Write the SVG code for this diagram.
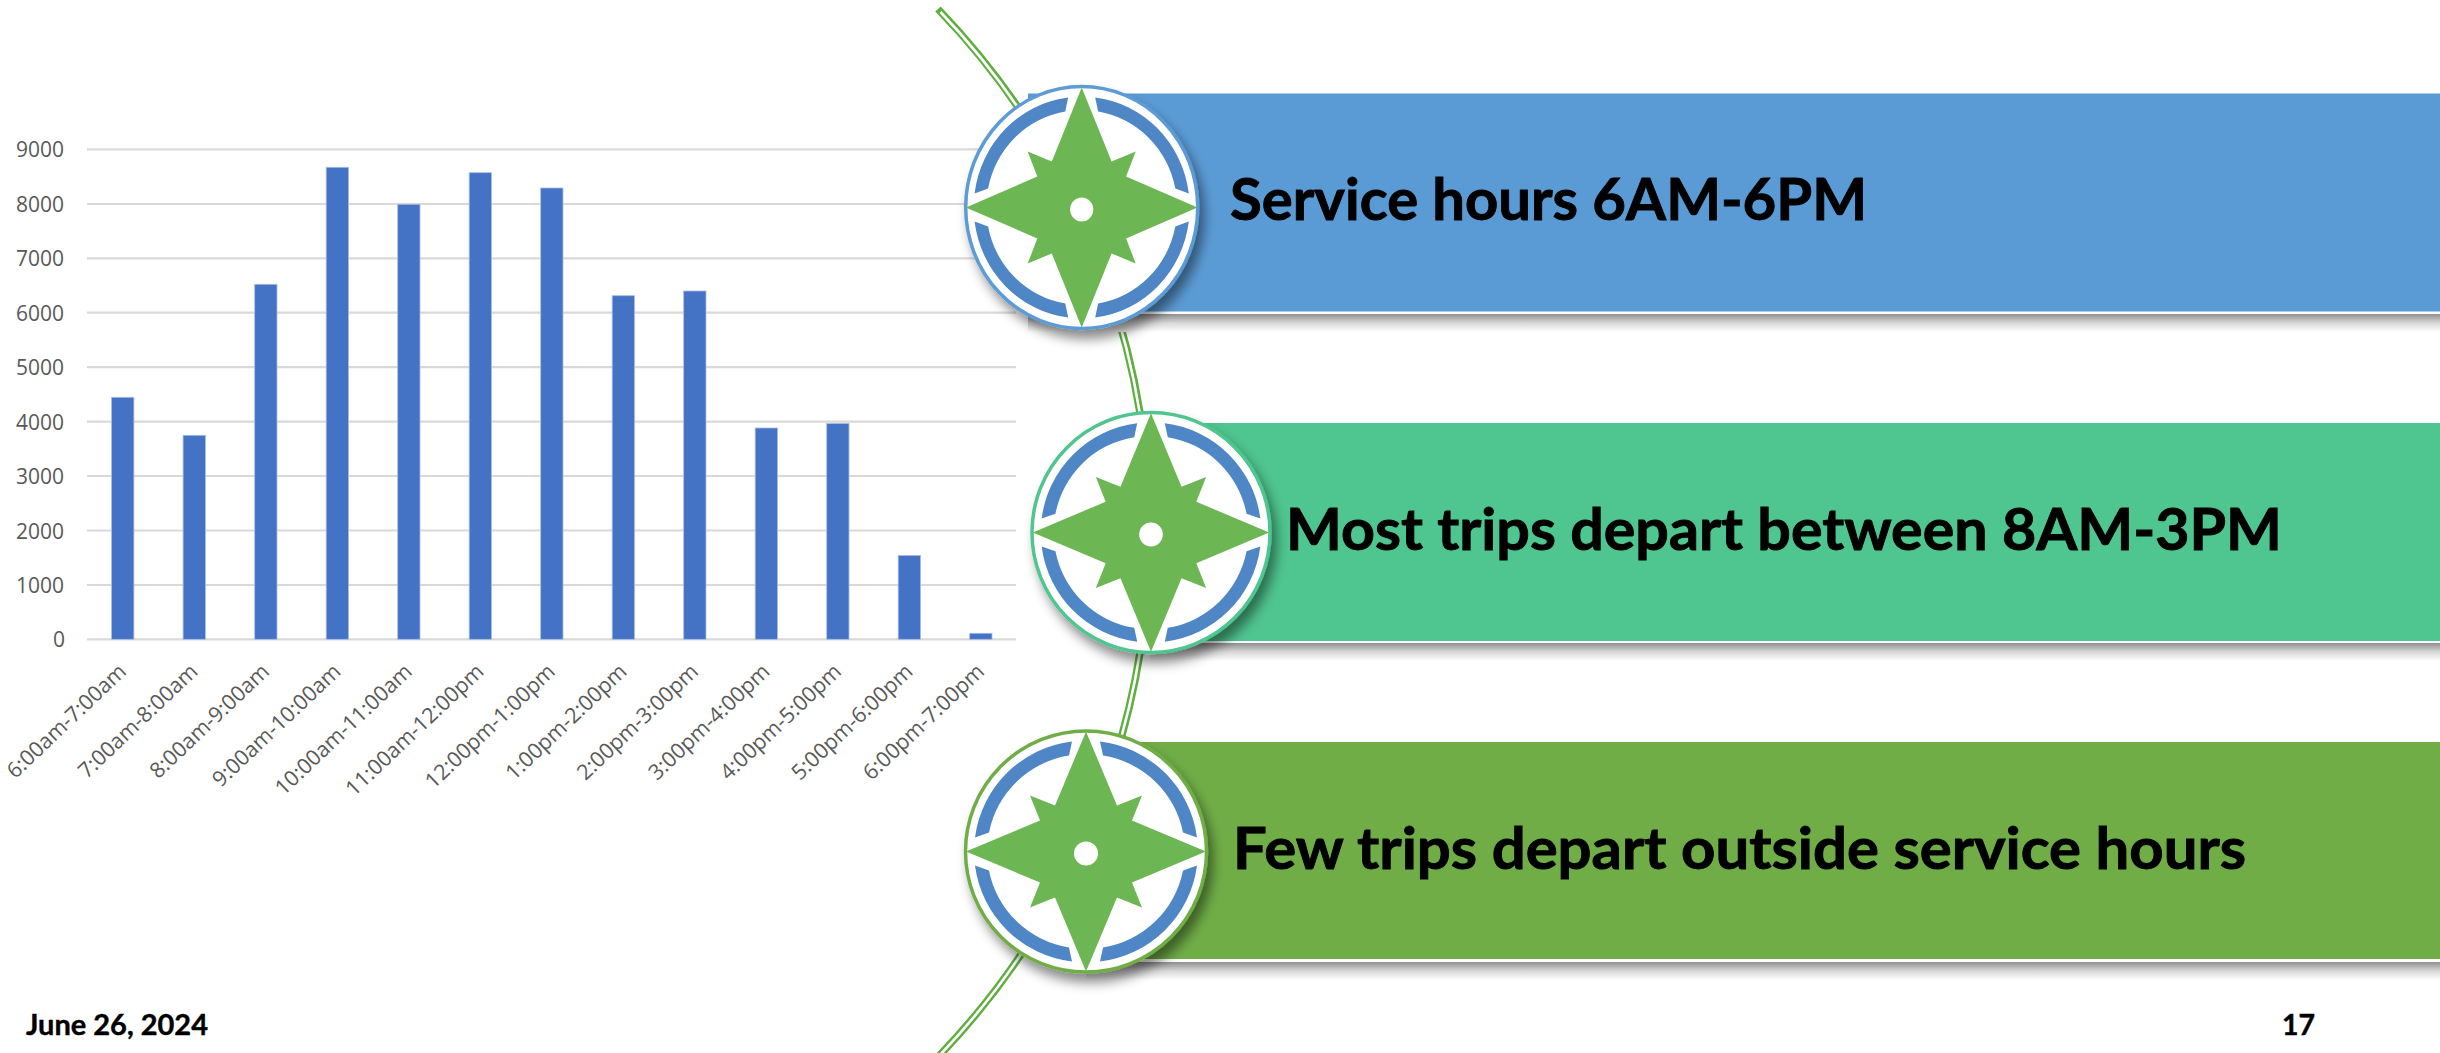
<svg xmlns="http://www.w3.org/2000/svg" xmlns:xlink="http://www.w3.org/1999/xlink" width="2440" height="1053" viewBox="0 0 2440 1053">
<style>
.grid{stroke:#d9d9d9;stroke-width:2.2;fill:none}
.bar{fill:#4472c4;stroke:#a9bde3;stroke-width:.8}
.ax{font-family:"Open Sans","Liberation Sans",sans-serif;font-size:21px;fill:#595959}
.xl{font-family:"Open Sans","Liberation Sans",sans-serif;font-size:21.4px;fill:#595959;text-anchor:end}
.big{font-family:Lato,"Liberation Sans",sans-serif;font-size:58px;font-weight:700;fill:#000;stroke:#000;stroke-width:.9}
.foot{font-family:Lato,"Liberation Sans",sans-serif;font-size:28.5px;font-weight:700;fill:#000;stroke:#000;stroke-width:.4}
.ring{fill:#4f86c6}
.star{fill:#6cb753}
</style>
<defs>
<linearGradient id="sh" x1="0" y1="0" x2="0" y2="1"><stop offset="0" stop-color="#8f8f8f"/><stop offset=".5" stop-color="#d8d8d8"/><stop offset="1" stop-color="#fff"/></linearGradient>
<filter id="ds" x="-20%" y="-20%" width="145%" height="145%"><feDropShadow dx="5" dy="9" stdDeviation="6" flood-color="#000" flood-opacity=".45"/></filter>
<g id="compassArt">
<g id="r4">
<path id="seg" class="ring" d="M14 -110A111 111 0 0 1 111 -14L97 -19A97 97 0 0 0 17 -96Z"/>
<use xlink:href="#seg" href="#seg" transform="scale(-1,1)"/>
<use xlink:href="#seg" href="#seg" transform="scale(1,-1)"/>
<use xlink:href="#seg" href="#seg" transform="scale(-1,-1)"/>
</g>
<path class="star" fill-rule="evenodd" d="M0 -120L31 -46L56 -56L46 -31L120 0L46 31L56 56L31 46L0 120L-31 46L-56 56L-46 31L-120 0L-46 -31L-56 -56L-31 -46ZM12 2A12 12 0 1 0 -12 2A12 12 0 1 0 12 2Z"/>
</g>
</defs>
<rect width="2440" height="1053" fill="#fff"/>
<g id="chart">
<g id="gridlines">
<path class="grid" d="M87 149.3H1016M87 204H1016M87 258.3H1016M87 312.7H1016M87 367.2H1016M87 421.7H1016M87 476H1016M87 530.5H1016M87 585H1016M87 639.4H1016"/>
</g>
<g id="bars">
<rect class="bar" x="111.6" y="397.3" width="22.3" height="242"/>
<rect class="bar" x="183.1" y="435.3" width="22.3" height="204"/>
<rect class="bar" x="254.7" y="284.3" width="22.3" height="355"/>
<rect class="bar" x="326.2" y="167.3" width="22.3" height="472"/>
<rect class="bar" x="397.7" y="204.3" width="22.3" height="435"/>
<rect class="bar" x="469.2" y="172.7" width="22.3" height="466.6"/>
<rect class="bar" x="540.7" y="188" width="22.3" height="451.3"/>
<rect class="bar" x="612.2" y="295.7" width="22.3" height="343.6"/>
<rect class="bar" x="683.7" y="291" width="22.3" height="348.3"/>
<rect class="bar" x="755.2" y="428" width="22.3" height="211.3"/>
<rect class="bar" x="826.7" y="423.5" width="22.3" height="215.8"/>
<rect class="bar" x="898.2" y="555.5" width="22.3" height="83.8"/>
<rect class="bar" x="969.7" y="633.3" width="22.3" height="6"/>
</g>
<g id="yaxis">
<text class="ax" x="16" y="157">9000</text>
<text class="ax" x="16" y="211.5">8000</text>
<text class="ax" x="16" y="266">7000</text>
<text class="ax" x="16" y="320.5">6000</text>
<text class="ax" x="16" y="375">5000</text>
<text class="ax" x="16" y="429.5">4000</text>
<text class="ax" x="16" y="484">3000</text>
<text class="ax" x="16" y="538.5">2000</text>
<text class="ax" x="16" y="593">1000</text>
<text class="ax" x="53" y="647">0</text>
</g>
<g id="xaxis">
<text class="xl" transform="translate(127.500 673) rotate(-43.500)">6:00am-7:00am</text>
<text class="xl" transform="translate(199 673) rotate(-43.500)">7:00am-8:00am</text>
<text class="xl" transform="translate(270.500 673) rotate(-43.500)">8:00am-9:00am</text>
<text class="xl" transform="translate(342 673) rotate(-43.500)">9:00am-10:00am</text>
<text class="xl" transform="translate(413.500 673) rotate(-43.500)">10:00am-11:00am</text>
<text class="xl" transform="translate(485 673) rotate(-43.500)">11:00am-12:00pm</text>
<text class="xl" transform="translate(556.500 673) rotate(-43.500)">12:00pm-1:00pm</text>
<text class="xl" transform="translate(628 673) rotate(-43.500)">1:00pm-2:00pm</text>
<text class="xl" transform="translate(699.500 673) rotate(-43.500)">2:00pm-3:00pm</text>
<text class="xl" transform="translate(771 673) rotate(-43.500)">3:00pm-4:00pm</text>
<text class="xl" transform="translate(842.500 673) rotate(-43.500)">4:00pm-5:00pm</text>
<text class="xl" transform="translate(914 673) rotate(-43.500)">5:00pm-6:00pm</text>
<text class="xl" transform="translate(985.500 673) rotate(-43.500)">6:00pm-7:00pm</text>
</g>
</g>
<g id="connectors">
<path d="M938 9A755 755 0 0 1 938 1057" fill="none" stroke="#5fae3f" stroke-width="7.5"/>
<path d="M940.500 12A755 755 0 0 1 938 1057" fill="none" stroke="#fff" stroke-width="2.6"/>
</g>
<g id="banner1">
<rect x="1028" y="314" width="1412" height="18" fill="url(#sh)"/>
<rect x="1028" y="92" width="1412" height="222" fill="#fff"/>
<rect x="1028" y="93.500" width="1412" height="218" fill="#5b9bd5"/>
<text class="big" x="1230" y="219.500" textLength="637" lengthAdjust="spacingAndGlyphs">Service hours 6AM-6PM</text>
</g>
<g id="banner2">
<rect x="1150" y="643" width="1290" height="18" fill="url(#sh)"/>
<rect x="1150" y="421" width="1290" height="222" fill="#fff"/>
<rect x="1150" y="423" width="1290" height="218" fill="#4fc58f"/>
<text class="big" x="1286" y="550" textLength="996" lengthAdjust="spacingAndGlyphs">Most trips depart between 8AM-3PM</text>
</g>
<g id="banner3">
<rect x="1086" y="962" width="1354" height="18" fill="url(#sh)"/>
<rect x="1086" y="740" width="1354" height="222" fill="#fff"/>
<rect x="1086" y="742" width="1354" height="217" fill="#70ad47"/>
<text class="big" x="1233" y="869" textLength="1013" lengthAdjust="spacingAndGlyphs">Few trips depart outside service hours</text>
</g>
<g id="compass1" transform="translate(1081.700 207.500)">
<ellipse rx="116" ry="121" fill="#fff" stroke="#5b9bd5" stroke-width="3.500" filter="url(#ds)"/>
<use xlink:href="#compassArt" href="#compassArt" transform="scale(.965 1)"/>
</g>
<g id="compass2" transform="translate(1151 532.500)">
<ellipse rx="119" ry="120" fill="#fff" stroke="#4fc58f" stroke-width="3.500" filter="url(#ds)"/>
<use xlink:href="#compassArt" href="#compassArt" transform="scale(.985 .993)"/>
</g>
<g id="compass3" transform="translate(1086 851.500)">
<ellipse rx="120.500" ry="120.500" fill="#fff" stroke="#70ad47" stroke-width="3.500" filter="url(#ds)"/>
<use xlink:href="#compassArt" href="#compassArt"/>
</g>
<g id="footer">
<text class="foot" x="26" y="1035" textLength="182" lengthAdjust="spacingAndGlyphs">June 26, 2024</text>
<text class="foot" x="2282" y="1035">17</text>
</g>
</svg>
